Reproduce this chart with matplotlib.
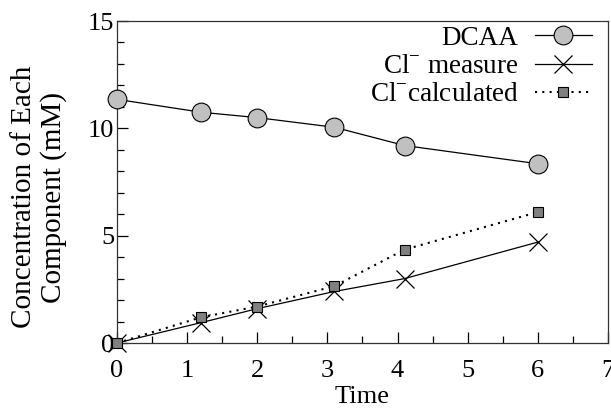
import matplotlib
matplotlib.use("Agg")
import matplotlib.pyplot as plt
from matplotlib.ticker import MultipleLocator

plt.rcParams["font.family"] = ["Liberation Serif", "DejaVu Serif"]
plt.rcParams["mathtext.fontset"] = "custom"
plt.rcParams["mathtext.rm"] = "Liberation Serif"
plt.rcParams["font.size"] = 19

# data
time_dcaa = [0, 1.2, 2, 3.1, 4.1, 6]
dcaa = [11.35, 10.75, 10.5, 10.05, 9.2, 8.35]

time_cl = [0, 1.2, 2, 3.1, 4.1, 6]
cl_measure = [0, 0.95, 1.6, 2.4, 3.0, 4.7]
cl_calc = [0, 1.2, 1.7, 2.65, 4.35, 6.1]

fig = plt.figure(figsize=(6.11, 4.08), dpi=100)
ax = fig.add_axes([0.1915, 0.1593, 0.8035, 0.7892])

ax.plot(time_dcaa, dcaa, color="black", lw=0.9, marker="o", ms=13.5,
        mfc="#c0c0c0", mec="black", mew=0.8, label="DCAA", clip_on=False, zorder=3)
ax.plot(time_cl, cl_measure, color="black", lw=0.9, marker="x", ms=13,
        mew=0.9, label="Cl$^{-}$ measure", clip_on=False, zorder=3)
ax.plot(time_cl, cl_calc, color="black", lw=1.5, ls=(0, (1, 2.5)), marker="s", ms=7,
        mfc="#808080", mec="black", mew=0.8, label="Cl$^{-}$calculated", clip_on=False, zorder=4)

ax.set_xlim(0, 7)
ax.set_ylim(0, 15)
ax.xaxis.set_major_locator(MultipleLocator(1))
ax.xaxis.set_minor_locator(MultipleLocator(0.5))
ax.yaxis.set_major_locator(MultipleLocator(5))
ax.yaxis.set_minor_locator(MultipleLocator(1))
ax.tick_params(which="both", direction="in", top=False, right=False, width=0.9)
ax.tick_params(which="major", length=8)
ax.tick_params(which="minor", length=5)
ax.tick_params(axis="x", pad=12)
ax.tick_params(axis="y", pad=2)
for s in ax.spines.values():
    s.set_linewidth(0.9)
    s.set_color("#333333")

ax.set_xlabel("Time", labelpad=3)
ax.set_ylabel("Concentration of Each\nComponent (mM)", fontsize=21, linespacing=1.15)
ax.yaxis.set_label_coords(-0.102, 0.453)

ax.legend(loc="upper right", bbox_to_anchor=(0.967, 0.985), frameon=False,
          markerfirst=False, handlelength=2.1, handletextpad=0.6,
          labelspacing=0.12, borderaxespad=0, borderpad=0, fontsize=19.5)

fig.savefig("out.png", dpi=100)
